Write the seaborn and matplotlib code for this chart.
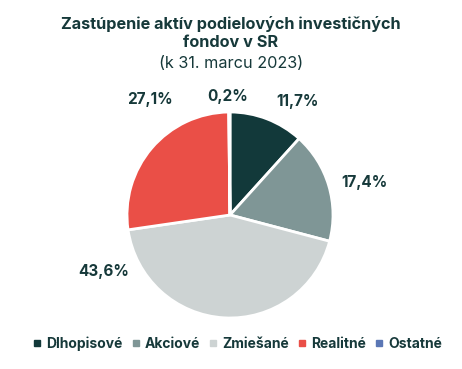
import matplotlib
matplotlib.use("Agg")
import matplotlib.pyplot as plt
import seaborn as sns

categories = ["Dlhopisové", "Akciové", "Zmiešané", "Realitné", "Ostatné"]
shares = [11.7, 17.4, 43.6, 27.1, 0.2]
colors = ["#12393a", "#7f9696", "#cdd3d3", "#ea4f47", "#5b77b5"]

title_main = "Zastúpenie aktív podielových investičných\nfondov v SR"
title_sub = "(k 31. marcu 2023)"

# label anchors in pie-radius units (layout only)
label_pos = [(0.66, 1.10), (1.31, 0.32), (-1.23, -0.55), (-0.78, 1.12), (-0.02, 1.15)]

TEXT = "#16393a"

sns.set_theme(style="white")
plt.rcParams["font.family"] = ["Inter", "DejaVu Sans"]

W, H = 462, 369
fig = plt.figure(figsize=(W / 100, H / 100), dpi=100)

cx, cy, R = 230, 215, 103
ax = fig.add_axes([(cx - R) / W, (H - cy - R) / H, 2 * R / W, 2 * R / H])
wedges, _ = ax.pie(shares, colors=colors, startangle=90, counterclock=False,
                   radius=1, wedgeprops=dict(edgecolor="white", linewidth=2))
ax.set_xlim(-1, 1)
ax.set_ylim(-1, 1)
ax.axis("off")

for v, (x, y) in zip(shares, label_pos):
    ax.text(x, y, f"{v:.1f}%".replace(".", ","), ha="center", va="center",
            fontsize=11, fontweight="bold", color=TEXT, clip_on=False)

fig.text(0.5, 1 - 33 / H, title_main, ha="center", va="center", fontsize=11.7,
         fontweight="bold", color=TEXT, linespacing=1.25)
fig.text(0.5, 1 - 63 / H, title_sub, ha="center", va="center", fontsize=11.7,
         color=TEXT)

handles = [plt.Line2D([], [], marker="s", linestyle="", markersize=5,
                      markerfacecolor=c, markeredgecolor=c) for c in colors]
fig.legend(handles, categories, loc="center", bbox_to_anchor=(0.515, 1 - 344 / H),
           ncol=5, frameon=False, handlelength=0.5, handletextpad=0.4,
           columnspacing=0.7, prop=dict(size=10, weight="bold"), labelcolor=TEXT)

fig.savefig("out.png", dpi=100)
